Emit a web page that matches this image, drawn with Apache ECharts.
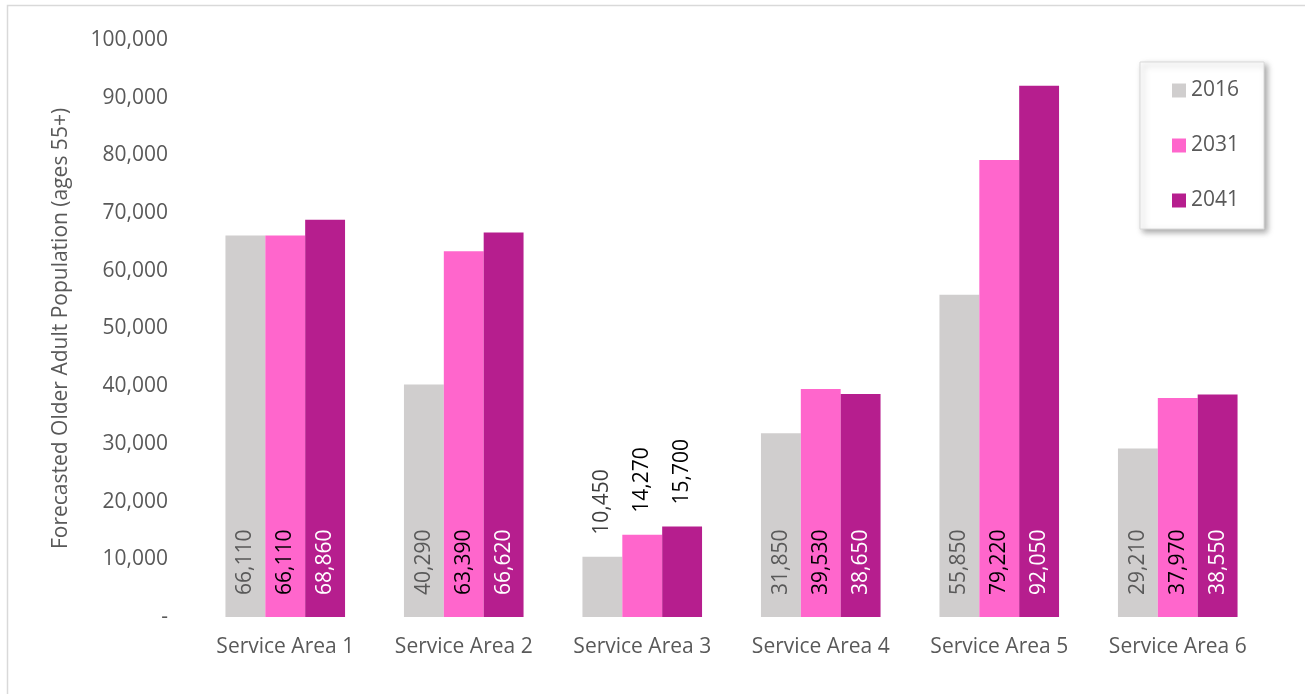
<!DOCTYPE html>
<html>
<head>
<meta charset="utf-8">
<script src="https://cdn.jsdelivr.net/npm/echarts@6/dist/echarts.min.js"></script>
<style>
  html, body { margin: 0; padding: 0; background: #fff; }
  #chart { width: 1305px; height: 694px; }
</style>
</head>
<body>
<div id="chart"></div>
<script>
const categories = ['Service Area 1', 'Service Area 2', 'Service Area 3', 'Service Area 4', 'Service Area 5', 'Service Area 6']
const years = ['2016', '2031', '2041']
const pop2016 = [66110, 40290, 10450, 31850, 55850, 29210]
const pop2031 = [66110, 63390, 14270, 39530, 79220, 37970]
const pop2041 = [68860, 66620, 15700, 38650, 92050, 38550]
// the small bars get their labels above the bar
const labelsOnTop = [2]

const colors = ['#D0CECE', '#FF66CC', '#B61E8E']
const labelColors = ['#595959', '#000000', '#ffffff']
const font = '"Open Sans", "Noto Sans", sans-serif'

const chart = echarts.init(document.getElementById('chart'))

const makeSeries = (name, values, idx) => ({
  name: name,
  type: 'bar',
  barGap: 0,
  barCategoryGap: '33%',
  itemStyle: { color: colors[idx] },
  label: {
    show: true,
    position: 'insideBottom',
    distance: 22,
    rotate: 90,
    align: 'left',
    verticalAlign: 'middle',
    fontFamily: font,
    fontSize: 21,
    color: labelColors[idx],
    formatter: (p) => p.value.toLocaleString('en-US'),
  },
  data: values.map((v, i) => labelsOnTop.includes(i)
    ? { value: v, label: { position: 'top', distance: 22, color: idx === 0 ? '#404040' : '#000000' } }
    : v),
})

const option = {
  animation: false,
  textStyle: { fontFamily: font },
  graphic: [
    {
      type: 'rect',
      shape: { x: 7.5, y: 5.5, width: 1400, height: 800 },
      style: { fill: 'none', stroke: '#D9D9D9', lineWidth: 1.5 },
      silent: true,
    },
  ],
  legend: {
    orient: 'vertical',
    left: 1140,
    top: 62,
    icon: 'rect',
    itemWidth: 14,
    itemHeight: 14,
    itemGap: 34,
    padding: [18, 25, 18, 32],
    backgroundColor: '#ffffff',
    borderColor: '#D9D9D9',
    borderWidth: 1,
    shadowBlur: 6,
    shadowOffsetX: 3,
    shadowOffsetY: 3,
    shadowColor: 'rgba(0, 0, 0, 0.35)',
    textStyle: { fontFamily: font, fontSize: 21, color: '#595959' },
    data: years,
  },
  grid: {
    left: 196,
    right: 38,
    top: 40,
    bottom: 77,
  },
  xAxis: {
    type: 'category',
    data: categories,
    axisLine: { show: false },
    axisTick: { show: false },
    axisLabel: {
      interval: 0,
      margin: 20,
      fontFamily: font,
      fontSize: 21,
      color: '#595959',
    },
  },
  yAxis: {
    type: 'value',
    min: 0,
    max: 100000,
    interval: 10000,
    name: 'Forecasted Older Adult Population (ages 55+)',
    nameLocation: 'middle',
    nameGap: 124,
    nameTextStyle: { fontFamily: font, fontSize: 21, color: '#595959' },
    axisLine: { show: false },
    axisTick: { show: false },
    splitLine: { show: false },
    axisLabel: {
      margin: 28,
      fontFamily: font,
      fontSize: 21,
      color: '#595959',
      formatter: (v) => v === 0 ? '-' : v.toLocaleString('en-US'),
    },
  },
  series: [
    makeSeries(years[0], pop2016, 0),
    makeSeries(years[1], pop2031, 1),
    makeSeries(years[2], pop2041, 2),
  ],
}

chart.setOption(option)
</script>
</body>
</html>
